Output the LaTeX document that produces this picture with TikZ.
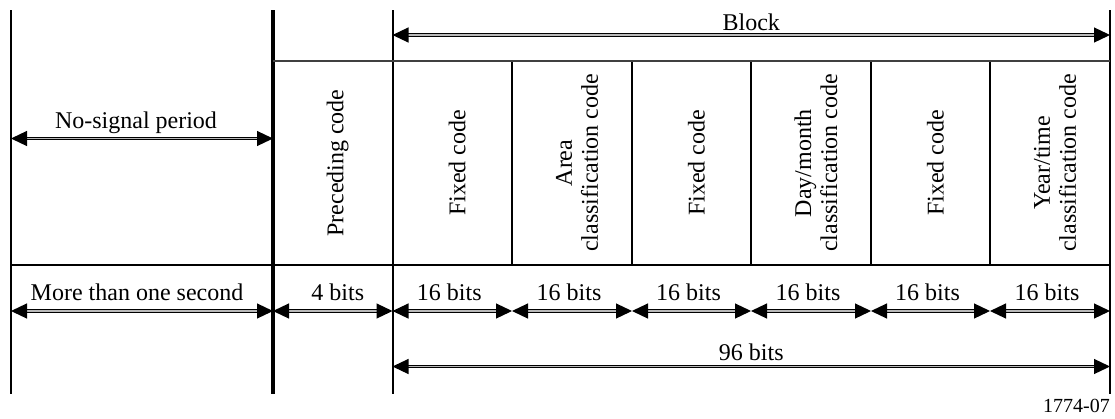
\documentclass[tikz,border=0pt]{standalone}
\usepackage{fontspec}
\setmainfont{Liberation Serif}
\usetikzlibrary{arrows.meta, calc}

\begin{document}
\begin{tikzpicture}[x=1pt, y=-1pt, font=\fontsize{24}{26}\selectfont,
    dimline/.style={line width=1.2pt, double=gray!55, double distance=1.3pt,
        {Triangle[length=16pt, width=15pt]}-{Triangle[length=16pt, width=15pt]}},
    codetext/.style={rotate=90, align=center, inner sep=0pt}]
    \useasboundingbox (0,0) rectangle (1115,418);
    % 定义纵向位置
    \pgfmathsetmacro{\ytop}{10}  % 竖线上端
    \pgfmathsetmacro{\ybox}{61}  % 码框上边
    \pgfmathsetmacro{\yrow}{265} % 码框下边
    \pgfmathsetmacro{\ybot}{394} % 竖线下端
    \pgfmathsetmacro{\ybit}{311} % 比特数箭头

    % 定义分界点
    \foreach \x [count=\i from 0] in {11,273,392.5,512,632,751,871,990,1110} {
        \coordinate (t\i) at (\x,\ytop);
        \coordinate (u\i) at (\x,\ybox);
        \coordinate (m\i) at (\x,\yrow);
        \coordinate (d\i) at (\x,\ybot);
        \coordinate (s\i) at (\x,\ybit);
    }

    % 绘制竖线
    \draw[line width=2.5pt] (t0) -- (d0);
    \draw[line width=3.5pt] (t1) -- (d1);
    \draw[line width=2pt] (t2) -- (d2);
    \draw[line width=2.5pt] (t8) -- (d8);
    \foreach \i in {3,...,7} \draw[line width=2pt] (u\i) -- (m\i);

    % 绘制横线
    \draw[line width=1.5pt, black!75] (u1) -- (u8);
    \draw[line width=2pt] (m0) -- (m8);

    % 各段代码名称
    \foreach \i/\txt in {1/Preceding code, 2/Fixed code, 3/{Area\\classification code},
        4/Fixed code, 5/{Day/month\\classification code}, 6/Fixed code,
        7/{Year/time\\classification code}} {
        \pgfmathtruncatemacro{\j}{\i+1}
        \node[codetext, yshift=-5pt] (code\i) at ($(u\i)!0.5!(m\j)$) {\txt};
    }

    % 上方箭头
    \coordinate (blkL) at (392.5,35);
    \coordinate (blkR) at (1110,35);
    \draw[dimline] (blkL) -- (blkR) node[midway, anchor=base, yshift=5pt] (block) {Block};
    \coordinate (nsL) at (11,138.5);
    \coordinate (nsR) at (273,138.5);
    \draw[dimline] (nsL) -- (nsR) node[midway, anchor=base, yshift=10pt, xshift=-6pt] (nosig) {No-signal period};

    % 比特数箭头
    \draw[dimline] (s0) -- (s1) node[midway, anchor=base, yshift=11pt, xshift=-5pt] (sec) {More than one second};
    \draw[dimline] (s1) -- (s2) node[midway, anchor=base, yshift=11pt, xshift=5pt] (bits1) {4 bits};
    \foreach \i in {2,...,7} {
        \pgfmathtruncatemacro{\j}{\i+1}
        \draw[dimline] (s\i) -- (s\j) node[midway, anchor=base, yshift=11pt, xshift=-3pt] (bits\j) {16 bits};
    }
    \coordinate (allL) at (392.5,366.5);
    \coordinate (allR) at (1110,366.5);
    \draw[dimline] (allL) -- (allR) node[midway, anchor=base, yshift=6pt] (total) {96 bits};

    % 图号
    \node[anchor=base east, inner sep=0pt, font=\fontsize{20}{22}\selectfont] (figno) at (1110,412) {1774-07};
\end{tikzpicture}
\end{document}
